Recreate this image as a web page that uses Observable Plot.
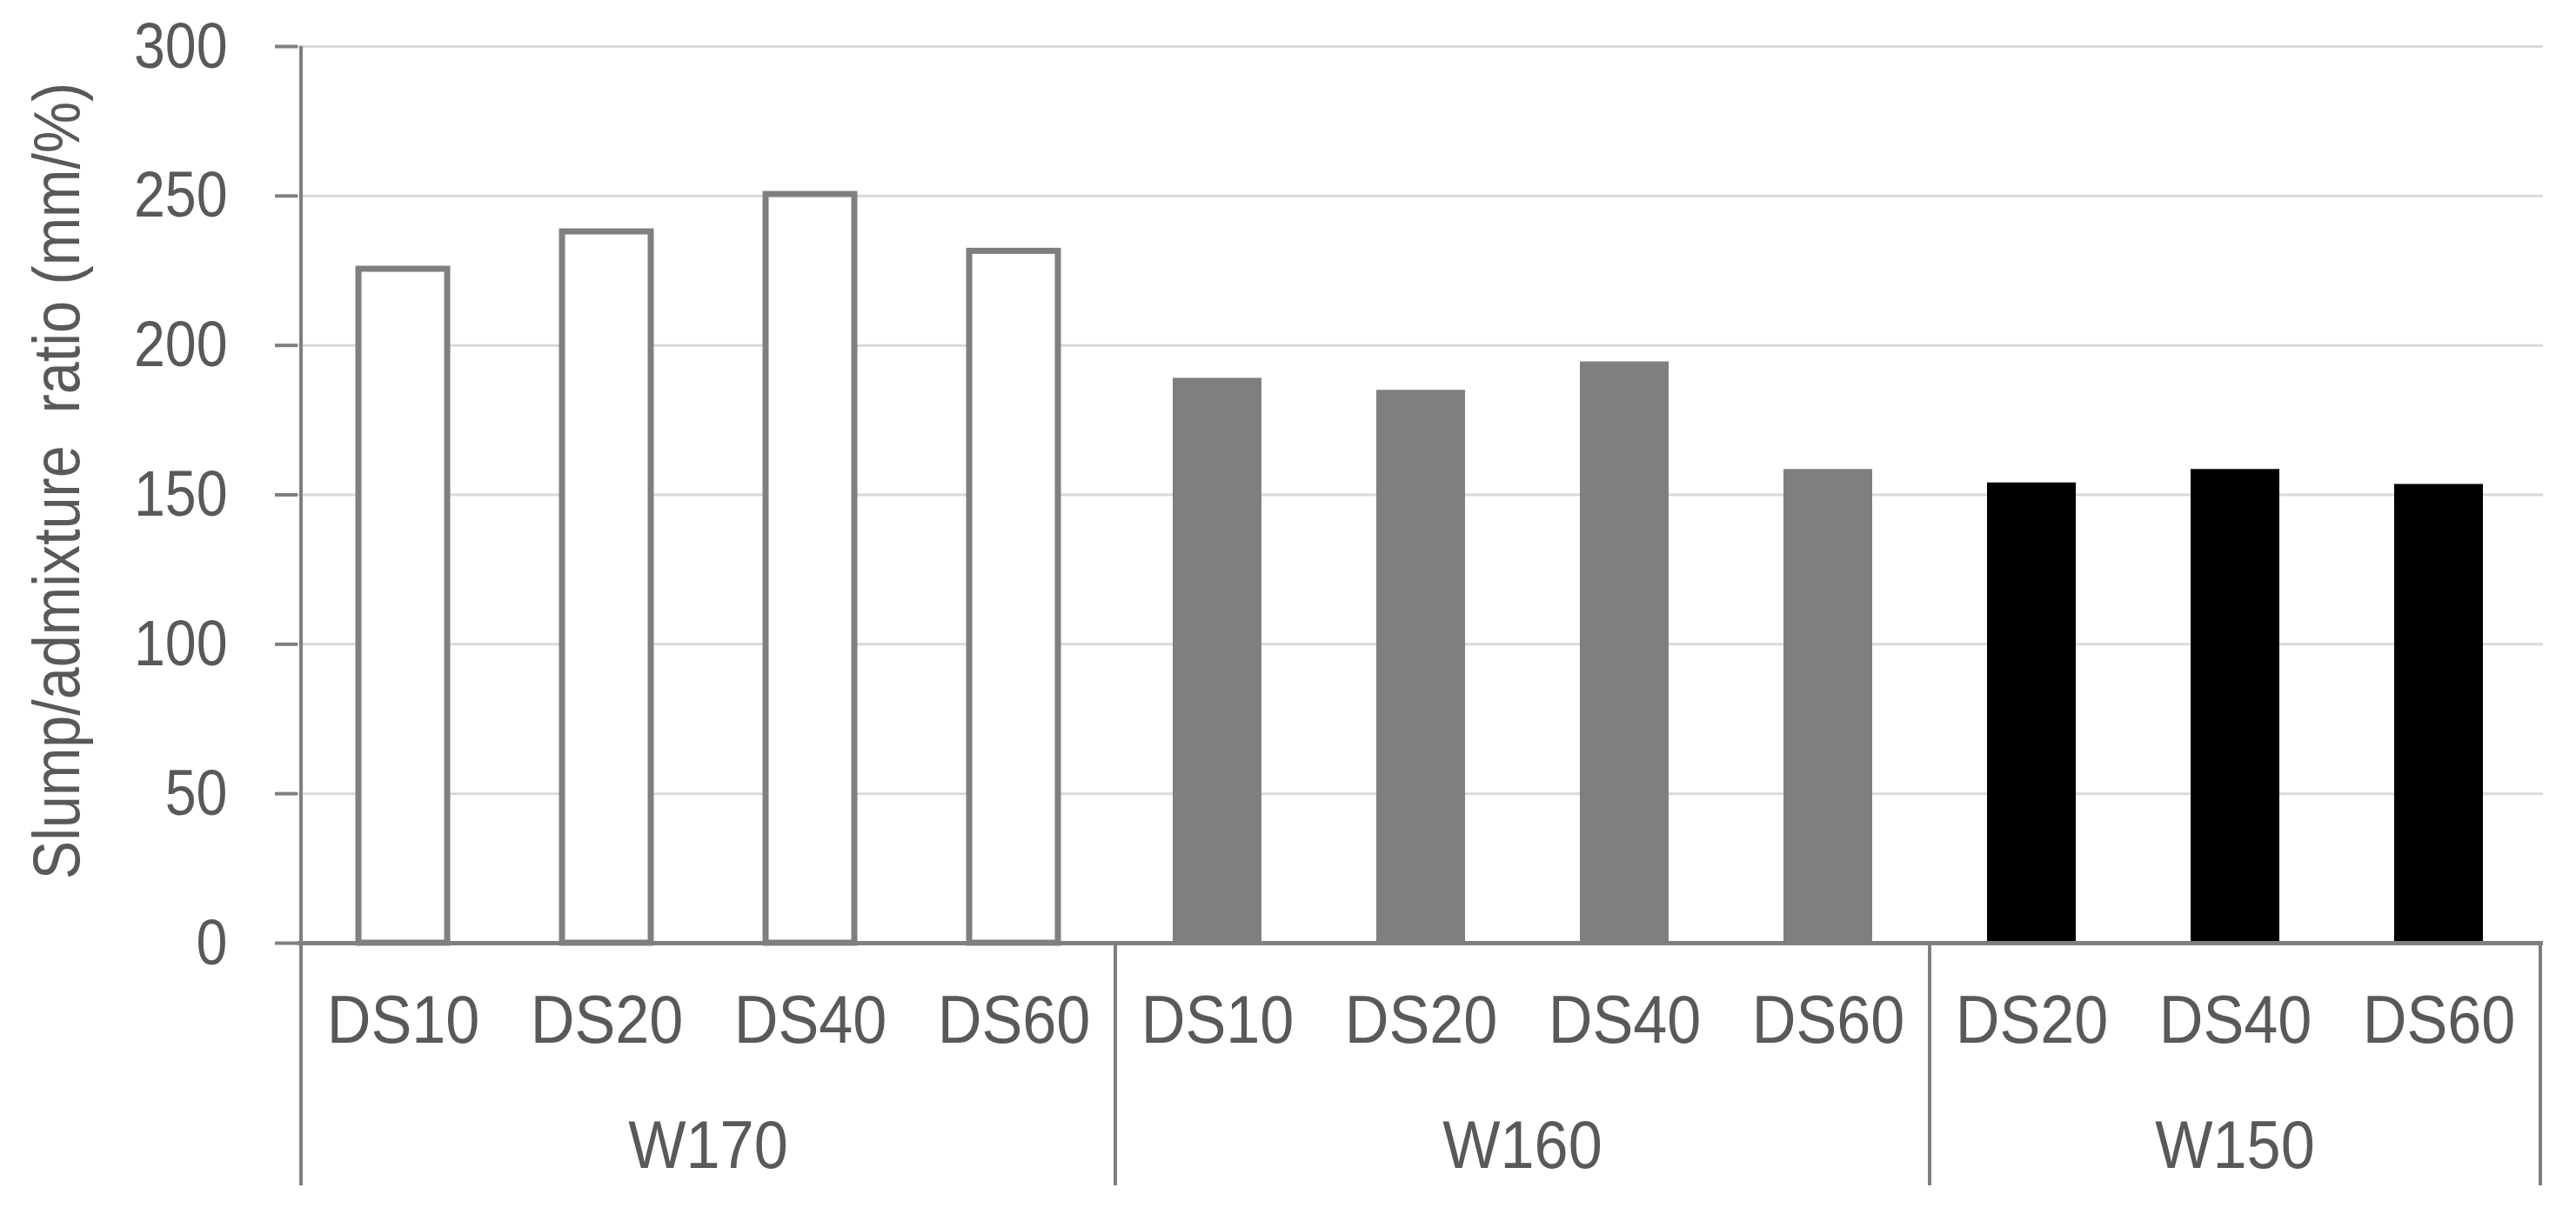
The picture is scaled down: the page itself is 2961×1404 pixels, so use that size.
<!DOCTYPE html>
<html>
<head>
<meta charset="utf-8">
<script src="https://cdn.jsdelivr.net/npm/d3@7"></script>
<script src="https://cdn.jsdelivr.net/npm/@observablehq/plot@0.6"></script>
<style>
  html, body { margin: 0; padding: 0; background: #ffffff; }
  #chart svg { display: block; }
</style>
</head>
<body>
<div id="chart"></div>
<script>
// ---- data ----
const groups = ["W170", "W170", "W170", "W170", "W160", "W160", "W160", "W160", "W150", "W150", "W150"];
const mixes  = ["DS10", "DS20", "DS40", "DS60", "DS10", "DS20", "DS40", "DS60", "DS20", "DS40", "DS60"];
const ratios = [225.5, 238, 250.5, 231.5, 189, 185, 194.5, 158.5, 154, 158.5, 153.5];
const groupNames = ["W170", "W160", "W150"];
const yTicks = [0, 50, 100, 150, 200, 250, 300];
const yTitle = "Slump/admixture  ratio (mm/%)";

// ---- table ----
const data = ratios.map((v, i) => ({key: groups[i] + "|" + mixes[i], group: groups[i], mix: mixes[i], value: v}));
const keys = data.map(d => d.key);

const FONT = "'Liberation Sans', Arial, sans-serif";
const TEXT = "#595959";
const AXIS = "#7f7f7f";
const fills = {W170: "#ffffff", W160: "#7f7f7f", W150: "#000000"};

// custom hierarchical x-axis (y-axis line, dividers + group labels) built from the x scale
function groupAxis(index, scales, values, dimensions, context) {
  const x = scales.x;
  const bw = typeof x.bandwidth === "function" ? x.bandwidth() : (x.bandwidth || 0);
  const step = x(keys[1]) - x(keys[0]);
  const center = k => x(k) + bw / 2;
  const frameTop = dimensions.marginTop;
  const top = dimensions.height - dimensions.marginBottom;
  const bottom = top + 279;
  const g = d3.create("svg:g");
  const bounds = [];
  groupNames.forEach(gn => {
    const ks = keys.filter(k => k.startsWith(gn + "|"));
    const left = center(ks[0]) - step / 2;
    const right = center(ks[ks.length - 1]) + step / 2;
    bounds.push(left, right);
    g.append("text")
      .attr("class", "condense")
      .attr("x", (left + right) / 2)
      .attr("y", top + 232)
      .attr("text-anchor", "middle")
      .attr("dominant-baseline", "central")
      .attr("fill", TEXT)
      .attr("font-family", FONT)
      .attr("font-size", 78)
      .text(gn);
  });
  const uniq = Array.from(new Set(bounds.map(b => Math.round(b * 10) / 10)));
  uniq.forEach((b, i) => {
    g.append("line")
      .attr("x1", b).attr("x2", b)
      .attr("y1", i === 0 ? frameTop : top).attr("y2", bottom)
      .attr("stroke", AXIS).attr("stroke-width", 4);
  });
  return g.node();
}

const chart = Plot.plot({
  width: 2961,
  height: 1404,
  marginLeft: 342,
  marginRight: 38,
  marginTop: 53,
  marginBottom: 320,
  style: {fontFamily: FONT, background: "#ffffff", color: TEXT},
  x: {domain: keys, paddingInner: 0.565, paddingOuter: 0.2825, axis: null},
  y: {domain: [0, 300], axis: null},
  marks: [
    Plot.gridY(yTicks, {stroke: "#d9d9d9", strokeOpacity: 1, strokeWidth: 3}),
    Plot.barY(data.filter(d => d.group === "W170"), {x: "key", y: "value", fill: "#ffffff", stroke: AXIS, strokeWidth: 7}),
    Plot.barY(data.filter(d => d.group !== "W170"), {x: "key", y: "value", fill: d => fills[d.group]}),
    Plot.axisY(yTicks, {tickSize: 26, tickPadding: 55, fontSize: 75, stroke: AXIS, strokeOpacity: 1, strokeWidth: 4, fill: TEXT, label: null, className: "yticks"}),
    Plot.ruleY([0], {stroke: AXIS, strokeWidth: 5}),
    Plot.text(data, {x: "key", text: "mix", frameAnchor: "bottom", dy: 90, lineAnchor: "middle", fontSize: 78, fill: TEXT, className: "dslabels"}),
    Plot.text([yTitle], {frameAnchor: "left", textAnchor: "middle", rotate: -90, dx: -276, dy: -16, lineAnchor: "middle", fontSize: 76, fill: TEXT, className: "ytitle"}),
    groupAxis
  ]
});

document.getElementById("chart").appendChild(chart);

// condense the text horizontally, like the narrow face of the reference
function condense(sel, k) {
  d3.select(chart).selectAll(sel).each(function () {
    const len = this.getComputedTextLength();
    if (len > 0) {
      this.setAttribute("textLength", (len * k).toFixed(1));
      this.setAttribute("lengthAdjust", "spacingAndGlyphs");
    }
  });
}
condense(".yticks text", 0.86);
condense(".dslabels text", 0.9);
condense("text.condense", 0.9);
condense(".ytitle text", 0.875);
</script>
</body>
</html>
